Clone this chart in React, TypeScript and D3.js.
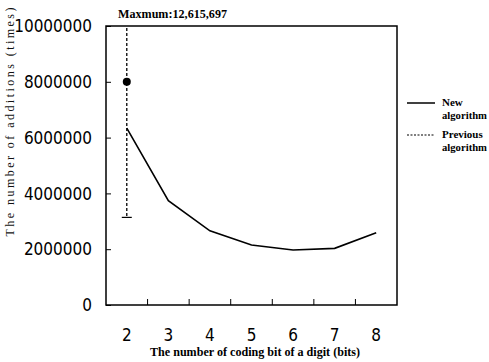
import React, { useRef, useEffect } from "react";
import * as d3 from "d3";

const bits = [2, 3, 4, 5, 6, 7, 8];
const newAlgorithm = [6340000, 3740000, 2660000, 2150000, 1970000, 2030000, 2590000];
const previousBits = [2];
const previousMean = [8000000];
const previousMin = [3140000];
const previousMax = [12615697];
const yTicks = [0, 2000000, 4000000, 6000000, 8000000, 10000000];
const minorTicks = [2.5, 3.5, 4.5, 5.5, 6.5, 7.5];

const sansNarrow = "'Liberation Sans Narrow', 'DejaVu Sans Condensed', 'Arial Narrow', sans-serif";
const serif = "'Liberation Serif', 'DejaVu Serif', serif";

function Chart() {
  const ref = useRef<SVGSVGElement>(null);

  useEffect(() => {
    const svg = d3.select(ref.current);
    svg.selectAll("*").remove();

    const left = 106, right = 397, top = 26, bottom = 305;

    const x = d3.scaleLinear().domain([1.5, 8.5]).range([left, right]);
    const y = d3.scaleLinear().domain([0, 10000000]).range([bottom, top]);

    svg.append("rect").attr("width", 489).attr("height", 362).attr("fill", "#fff");

    svg.append("defs").append("clipPath").attr("id", "plotclip")
      .append("rect")
      .attr("x", left).attr("y", top)
      .attr("width", right - left).attr("height", bottom - top);

    // y axis, ticks pointing inward
    const yAxis = svg.append("g")
      .attr("transform", "translate(" + left + ",0)")
      .call(d3.axisRight(y).tickValues(yTicks).tickSize(5).tickFormat(() => ""));
    yAxis.select(".domain").remove();
    yAxis.selectAll("line").attr("stroke", "#000");

    svg.append("g").selectAll("text")
      .data(yTicks)
      .join("text")
      .attr("x", 92)
      .attr("y", (d) => y(d))
      .attr("dy", "0.36em")
      .attr("text-anchor", "end")
      .attr("font-family", sansNarrow)
      .attr("font-size", 17)
      .attr("fill", "#000")
      .text((d) => String(d));

    // x axis minor ticks inward
    svg.append("g").selectAll("line")
      .data(minorTicks)
      .join("line")
      .attr("x1", (d) => x(d)).attr("x2", (d) => x(d))
      .attr("y1", bottom).attr("y2", bottom - 6)
      .attr("stroke", "#000");

    svg.append("g").selectAll("text")
      .data(bits)
      .join("text")
      .attr("x", (d) => x(d))
      .attr("y", 341)
      .attr("text-anchor", "middle")
      .attr("font-family", sansNarrow)
      .attr("font-size", 17)
      .attr("fill", "#000")
      .text((d) => String(d));

    // frame
    svg.append("rect")
      .attr("x", left).attr("y", top)
      .attr("width", right - left).attr("height", bottom - top)
      .attr("fill", "none")
      .attr("stroke", "#000")
      .attr("stroke-width", 1.5);

    const plot = svg.append("g").attr("clip-path", "url(#plotclip)");

    // previous algorithm: range + mean
    plot.selectAll(".range")
      .data(previousBits)
      .join("line")
      .attr("class", "range")
      .attr("x1", (d) => x(d)).attr("x2", (d) => x(d))
      .attr("y1", (d, i) => y(previousMax[i]))
      .attr("y2", (d, i) => y(previousMin[i]))
      .attr("stroke", "#000")
      .attr("stroke-width", 1.3)
      .attr("stroke-dasharray", "3,2");

    plot.selectAll(".whisker")
      .data(previousBits)
      .join("line")
      .attr("class", "whisker")
      .attr("x1", (d) => x(d) - 5).attr("x2", (d) => x(d) + 5)
      .attr("y1", (d, i) => y(previousMin[i]))
      .attr("y2", (d, i) => y(previousMin[i]))
      .attr("stroke", "#000")
      .attr("stroke-width", 1.2);

    plot.selectAll(".mean")
      .data(previousBits)
      .join("circle")
      .attr("class", "mean")
      .attr("cx", (d) => x(d))
      .attr("cy", (d, i) => y(previousMean[i]))
      .attr("r", 4)
      .attr("fill", "#000");

    // new algorithm line
    plot.append("path")
      .datum(bits.map((b, i) => [b, newAlgorithm[i]] as [number, number]))
      .attr("fill", "none")
      .attr("stroke", "#000")
      .attr("stroke-width", 1.6)
      .attr("d", d3.line<[number, number]>()
        .x((d) => x(d[0]))
        .y((d) => y(d[1])));

    svg.append("text")
      .attr("x", 118).attr("y", 18)
      .attr("font-family", serif)
      .attr("font-weight", "bold")
      .attr("font-size", 12)
      .attr("textLength", 109)
      .attr("lengthAdjust", "spacingAndGlyphs")
      .text("Maxmum:" + d3.format(",")(previousMax[0]));

    // axis titles
    svg.append("text")
      .attr("x", 255).attr("y", 356)
      .attr("text-anchor", "middle")
      .attr("font-family", serif)
      .attr("font-weight", "bold")
      .attr("font-size", 12)
      .attr("textLength", 210)
      .attr("lengthAdjust", "spacingAndGlyphs")
      .text("The number of coding bit of a digit (bits)");

    svg.append("text")
      .attr("transform", "translate(14,122) rotate(-90)")
      .attr("text-anchor", "middle")
      .attr("font-family", serif)
      .attr("font-size", 12)
      .attr("fill", "#111")
      .attr("textLength", 229)
      .attr("lengthAdjust", "spacing")
      .text("The number of additions (times)");

    // legend
    const legend = svg.append("g").attr("font-family", serif).attr("font-weight", "bold").attr("font-size", 11);
    legend.append("line")
      .attr("x1", 407).attr("x2", 435).attr("y1", 103).attr("y2", 103)
      .attr("stroke", "#000").attr("stroke-width", 1.5);
    legend.append("text").attr("x", 442).attr("y", 106).text("New");
    legend.append("text").attr("x", 442).attr("y", 119)
      .attr("textLength", 45).attr("lengthAdjust", "spacingAndGlyphs").text("algorithm");
    legend.append("line")
      .attr("x1", 407).attr("x2", 435).attr("y1", 135).attr("y2", 135)
      .attr("stroke", "#000").attr("stroke-width", 1.2)
      .attr("stroke-dasharray", "2,1.5");
    legend.append("text").attr("x", 442).attr("y", 138).text("Previous");
    legend.append("text").attr("x", 442).attr("y", 151)
      .attr("textLength", 45).attr("lengthAdjust", "spacingAndGlyphs").text("algorithm");
  }, []);

  return <svg ref={ref} width={489} height={362} style={{ display: "block" }} />;
}

export default function App() {
  return (
    <div style={{ position: "fixed", left: 0, top: 0, width: 489, height: 362, background: "#fff" }}>
      <Chart />
    </div>
  );
}
